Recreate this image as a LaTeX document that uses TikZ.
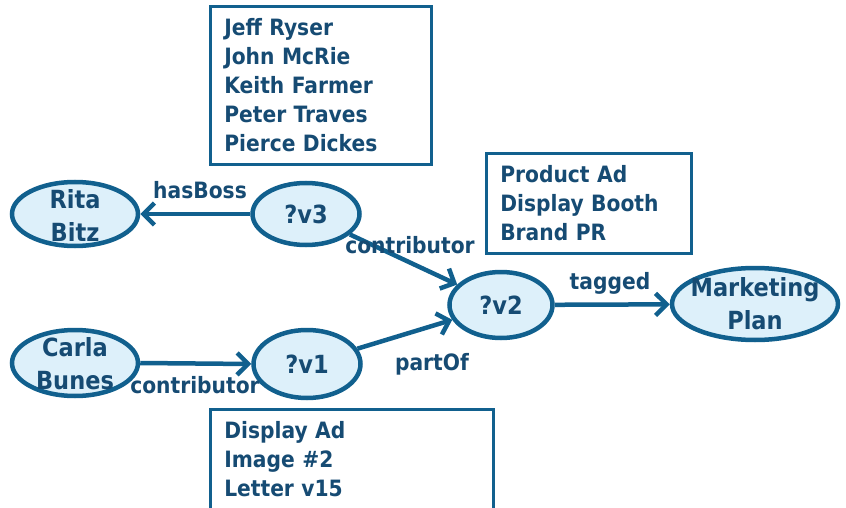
\documentclass[tikz,border=0pt]{standalone}
\usepackage{fontspec}
\setmainfont{DejaVu Sans Condensed}
\usetikzlibrary{shapes.geometric,arrows.meta}
\definecolor{edgeblue}{HTML}{11608E}
\definecolor{textblue}{HTML}{164B73}
\definecolor{fillblue}{HTML}{DDF0FA}
\begin{document}
\begin{tikzpicture}[x=1pt,y=-1pt,
  every node/.style={font=\fontsize{22.5}{31}\selectfont\bfseries, text=textblue},
  ell/.style={ellipse, draw=edgeblue, line width=4.5pt, fill=fillblue, inner sep=0pt},
  elltext/.style={align=center, inner sep=0pt, font=\fontsize{25}{33}\selectfont\bfseries, text=textblue},
  listbox/.style={draw=edgeblue, line width=2.6pt, align=left, inner xsep=14pt, inner ysep=0pt, anchor=north west,
     font=\fontsize{22.5}{29}\selectfont\bfseries},
  conn/.style={draw=edgeblue, line width=4.5pt, -{Straight Barb[length=11pt,width=22pt]}},
  lbl/.style={inner sep=0pt}
]
\useasboundingbox (0,0) rectangle (846,508);
% boxes
\node[listbox, minimum width=221pt, minimum height=158pt, text width=193pt] (people) at (209,5)
  {Jeff Ryser\\John McRie\\Keith Farmer\\Peter Traves\\Pierce Dickes};
\node[listbox, minimum width=205pt, minimum height=100pt, text width=177pt] (prod) at (485,152)
  {Product Ad\\Display Booth\\Brand PR};
\node[listbox, minimum width=283pt, minimum height=100.5pt, text width=255pt] (ads) at (209,408)
  {Display Ad\\Image \#2\\Letter v15};
% ellipses
\node[ell, minimum width=126pt, minimum height=64pt, label={[elltext,yshift=-2pt]center:Rita\\Bitz}] (rita) at (75,214) {};
\node[ell, minimum width=107pt, minimum height=62pt, label={[elltext]center:?v3}] (v3) at (306,214) {};
\node[ell, minimum width=103pt, minimum height=66pt, label={[elltext]center:?v2}] (v2) at (501,305) {};
\node[ell, minimum width=166pt, minimum height=72pt, label={[elltext]center:Marketing\\Plan}] (mp) at (755,304) {};
\node[ell, minimum width=126pt, minimum height=66pt, label={[elltext,yshift=-1pt]center:Carla\\Bunes}] (carla) at (75,363) {};
\node[ell, minimum width=107pt, minimum height=68pt, label={[elltext]center:?v1}] (v1) at (307,364) {};
% connectors
\draw[conn] (v3) -- (rita);
\draw[conn] (v3) -- (v2);
\draw[conn] (v2) -- (mp);
\draw[conn] (carla.east) -- (v1.west);
\draw[conn] (v1) -- (v2);
% labels
\node[lbl] (l1) at (200,190) {hasBoss};
\node[lbl] (l2) at (410,245) {contributor};
\node[lbl] (l3) at (610,283) {tagged};
\node[lbl] (l4) at (195,385) {contributor};
\node[lbl] (l5) at (432,364) {partOf};
\end{tikzpicture}
\end{document}
